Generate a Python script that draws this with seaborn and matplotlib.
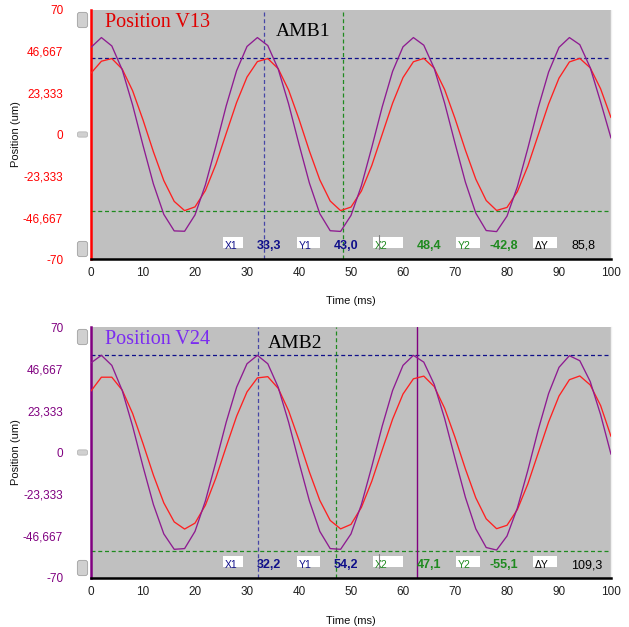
import numpy as np
import pandas as pd
import matplotlib
matplotlib.use("Agg")
import matplotlib.pyplot as plt
from matplotlib.patches import Rectangle, FancyBboxPatch
import seaborn as sns

sns.set_style("white")
plt.rcParams['font.family'] = ['Liberation Sans', 'DejaVu Sans']

# ---------------- data ----------------
time_ms = list(range(0, 101, 2))

# Panel 1 (AMB1)
amb1_v13 = [34.5, 41.2, 42.7, 36.8, 24.6, 8.2, -9.7, -25.9, -37.6, -42.8, -40.7,
            -31.5, -16.9, 0.6, 18.0, 32.3, 41.0, 42.7, 37.0, 25.0, 8.6,
            -9.3, -25.5, -37.4, -42.8, -40.8, -31.8, -17.4, 0.1, 17.6, 32.0,
            40.9, 42.8, 37.3, 25.3, 9.0, -8.8, -25.1, -37.1, -42.7, -41.0,
            -32.1, -17.8, -0.3, 17.2, 31.7, 40.8, 42.8, 37.5, 25.7, 9.5]
amb1_v24 = [49.0, 54.5, 49.8, 36.4, 16.6, -6.1, -27.8, -44.9, -54.2, -54.4, -45.2,
            -28.3, -6.7, 16.1, 35.9, 49.5, 54.5, 50.0, 36.8, 17.2, -5.5,
            -27.3, -44.5, -54.1, -54.5, -45.5, -28.8, -7.2, 15.5, 35.5, 49.3,
            54.5, 50.2, 37.2, 17.7, -4.9, -26.8, -44.2, -54.0, -54.6, -45.9,
            -29.3, -7.8, 15.0, 35.1, 49.0, 54.5, 50.5, 37.6, 18.3, -2.0]

# Panel 2 (AMB2)
amb2_v13 = [34.3, 42.0, 42.0, 34.8, 21.8, 5.0, -12.6, -28.1, -38.7, -42.7, -39.4,
            -29.4, -14.3, 3.2, 20.2, 33.8, 41.6, 42.3, 35.8, 23.3, 6.8,
            -10.9, -26.7, -37.9, -42.6, -40.1, -30.6, -16.0, 1.4, 18.6, 32.6,
            41.1, 42.6, 36.8, 24.7, 8.5, -9.2, -25.3, -37.0, -42.5, -40.6,
            -31.8, -17.6, -0.3, 17.0, 31.5, 40.6, 42.7, 37.7, 26.2, 9.0]
amb2_v24 = [50.0, 54.2, 48.6, 34.6, 14.7, -7.8, -29.0, -45.4, -54.0, -53.6, -44.0,
            -27.0, -5.5, 16.9, 36.4, 49.5, 54.2, 49.5, 36.4, 16.9, -5.5,
            -27.0, -44.0, -53.6, -54.0, -45.4, -29.0, -7.8, 14.7, 34.6, 48.6,
            54.2, 50.4, 38.0, 19.0, -3.3, -25.0, -42.6, -53.0, -54.4, -46.6,
            -30.9, -10.0, 12.6, 32.9, 47.5, 54.0, 51.2, 39.6, 21.1, -1.0]

y_ticks = [-70, -46.667, -23.333, 0, 23.333, 46.667, 70]
y_tick_labels = ["-70", "-46,667", "-23,333", "0", "23,333", "46,667", "70"]
x_ticks = list(range(0, 101, 10))

panel_titles = ["Position V13", "Position V24"]
panel_names = ["AMB1", "AMB2"]
cursor_x1 = [33.3, 32.2]
cursor_y1 = [43.0, 54.2]
cursor_x2 = [48.4, 47.1]
cursor_y2 = [-42.8, -55.1]
delta_y = [85.8, 109.3]
extra_cursor = [None, 62.7]

RED = "#ff2020"
PURPLE = "#8e1b91"
NAVY = "#10108a"
NAVY_LIGHT = "#4646a6"
GREEN = "#1f8a1f"
GRAY_BG = "#c0c0c0"
axis_colors = ["#ff0000", "#800080"]
title_colors = ["#e00000", "#7b2cf0"]

W, H = 629, 627
fig = plt.figure(figsize=(W / 100, H / 100), dpi=100)

# axes pixel boxes: left, right, top, bottom
boxes = [(91, 611, 10, 259), (91, 611, 327, 578)]

series = [(amb1_v13, amb1_v24), (amb2_v13, amb2_v24)]

for i, (l, r, t, b) in enumerate(boxes):
    ax = fig.add_axes([l / W, 1 - b / H, (r - l) / W, (b - t) / H])
    ax.set_facecolor(GRAY_BG)
    v13, v24 = series[i]
    df = pd.DataFrame({
        "Time (ms)": time_ms * 2,
        "Position (um)": v13 + v24,
        "signal": ["V13"] * len(time_ms) + ["V24"] * len(time_ms),
    })
    sns.lineplot(data=df, x="Time (ms)", y="Position (um)", hue="signal",
                 palette={"V13": RED, "V24": PURPLE}, linewidth=0.95,
                 legend=False, ax=ax, zorder=3)
    ax.set_xlim(0, 100)
    ax.set_ylim(-70, 70)
    ax.set_xticks(x_ticks)
    ax.set_xticklabels([str(v) for v in x_ticks], fontsize=8.5, color="#202020")
    ax.set_yticks(y_ticks)
    ax.set_yticklabels(y_tick_labels, fontsize=8.5, color=axis_colors[i])
    ax.tick_params(axis="y", length=0, pad=20)
    ax.tick_params(axis="x", length=0, pad=6)
    ax.set_xlabel("Time (ms)", fontsize=8, color="#101010")
    ax.set_ylabel("Position (um)", fontsize=8, color="#101010")
    ax.xaxis.set_label_coords(0.5, -0.15)
    ax.yaxis.set_label_coords(-0.135, 0.5)

    ax.spines["top"].set_visible(False)
    ax.spines["left"].set_color(axis_colors[i])
    ax.spines["left"].set_linewidth(1.8)
    ax.spines["bottom"].set_color("#000000")
    ax.spines["bottom"].set_linewidth(1.8)
    ax.spines["right"].set_color("#f0f0f0")
    ax.spines["right"].set_linestyle((0, (1, 1)))
    ax.spines["right"].set_linewidth(1.0)

    dash = (0, (3.2, 2.2))
    ax.axhline(cursor_y1[i], color=NAVY, lw=0.9, ls=dash, zorder=2)
    ax.axvline(cursor_x1[i], color=NAVY_LIGHT, lw=0.9, ls=dash, zorder=2)
    ax.axhline(cursor_y2[i], color=GREEN, lw=0.9, ls=dash, zorder=2)
    ax.axvline(cursor_x2[i], color=GREEN, lw=0.9, ls=dash, zorder=2)
    if extra_cursor[i] is not None:
        ax.axvline(extra_cursor[i], color="#800080", lw=1.0, zorder=2)

    def ax_xy(px, py):
        return (px - l) / (r - l), (b - py) / (b - t)

    # titles
    x0, y0 = ax_xy(105, t + 12.5)
    ax.text(x0, y0, panel_titles[i], transform=ax.transAxes, fontsize=14.5,
            family="Liberation Serif", color=title_colors[i], va="center", ha="left", zorder=5)
    nx = 276 if i == 0 else 268
    ny = t + 22 if i == 0 else t + 16
    x0, y0 = ax_xy(nx, ny)
    ax.text(x0, y0, panel_names[i], transform=ax.transAxes, fontsize=14,
            family="Liberation Serif", color="#000000", va="center", ha="left", zorder=5)

    # readout boxes
    row_top = b - 22
    row_bot = b - 11
    label_boxes = [(223, 243, "X1", NAVY), (297, 320, "Y1", NAVY),
                   (373, 403, "X2", GREEN), (456, 480, "Y2", GREEN),
                   (533, 557, "\u0394Y", "#000000")]
    vals = [cursor_x1[i], cursor_y1[i], cursor_x2[i], cursor_y2[i], delta_y[i]]
    val_centers = [269, 346, 429, 504, 583 if i == 0 else 587]
    for (bx0, bx1, lab, col), v, vc in zip(label_boxes, vals, val_centers):
        ax0, ay0 = ax_xy(bx0, row_bot)
        ax1_, ay1 = ax_xy(bx1, row_top)
        ax.add_patch(Rectangle((ax0, ay0), ax1_ - ax0, ay1 - ay0, transform=ax.transAxes,
                               facecolor="white", edgecolor="none", zorder=6))
        tx, ty = ax_xy(bx0 + 2, row_bot - 2)
        ax.text(tx, ty, lab, transform=ax.transAxes, fontsize=7.5, color=col,
                ha="left", va="center", zorder=7)
        vx, vy = ax_xy(vc, row_bot - 2)
        txt = f"{v:.1f}".replace(".", ",")
        ax.text(vx, vy, txt, transform=ax.transAxes, fontsize=9, color=col,
                ha="center", va="center", zorder=7,
                fontweight="normal" if lab == "\u0394Y" else "bold")
    # small cursor mark in X2 box
    mx, my0 = ax_xy(379, row_bot + 1)
    _, my1 = ax_xy(379, row_top - 2)
    ax.plot([mx, mx], [my0, my1], transform=ax.transAxes, color="#808080", lw=0.8, zorder=8)

    # scroll buttons to the left of the axis
    for (py0, py1) in [(t + 3, t + 17), (b - 17, b - 3)]:
        fig.patches.append(FancyBboxPatch((78 / W, 1 - py1 / H), 9 / W, (py1 - py0) / H,
                                          boxstyle="round,pad=0.001,rounding_size=0.004",
                                          transform=fig.transFigure, facecolor="#d0d0d0",
                                          edgecolor="#a0a0a0", lw=0.6))
    zy = (t + b) / 2
    fig.patches.append(FancyBboxPatch((78 / W, 1 - (zy + 2) / H), 9 / W, 4 / H,
                                      boxstyle="round,pad=0.001,rounding_size=0.003",
                                      transform=fig.transFigure, facecolor="#d0d0d0",
                                      edgecolor="#b0b0b0", lw=0.5))

fig.savefig("out.png", dpi=100, facecolor="white")
